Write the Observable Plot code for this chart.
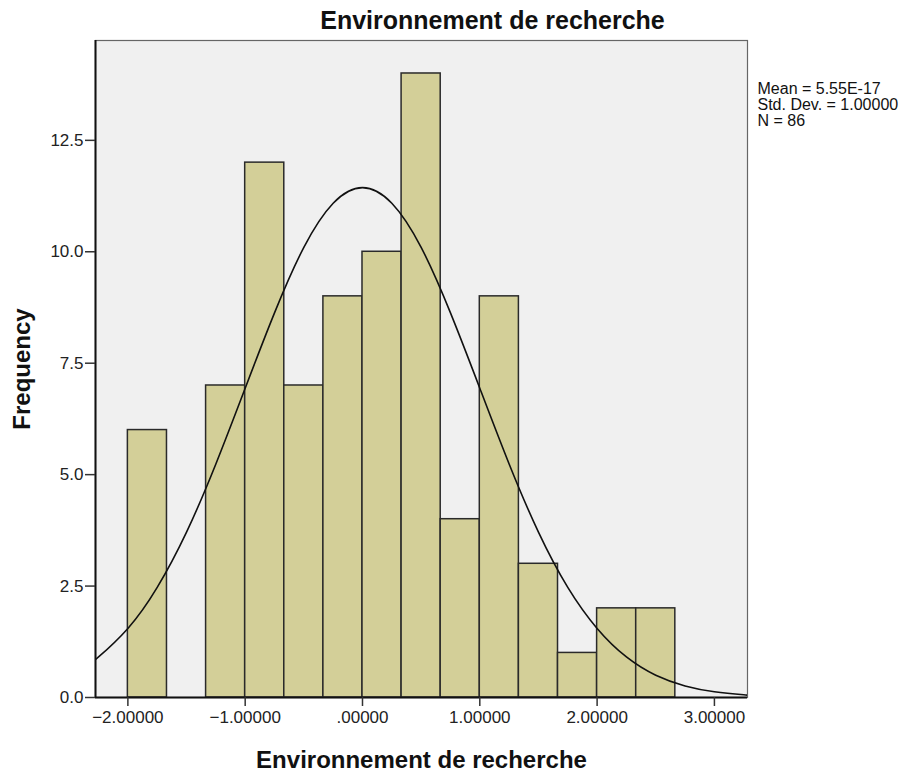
<!DOCTYPE html>
<html>
<head>
<meta charset="utf-8">
<script src="https://cdn.jsdelivr.net/npm/d3@7"></script>
<script src="https://cdn.jsdelivr.net/npm/@observablehq/plot@0.6"></script>
<style>
  html, body { margin: 0; padding: 0; background: #fff; }
  #chart svg { display: block; }
</style>
</head>
<body>
<div id="chart"></div>
<script>
// Histogram bins (lower edge, upper edge) and frequencies
const binStart = [-2.0, -1.6667, -1.3333, -1.0, -0.6667, -0.3333, 0.0, 0.3333, 0.6667, 1.0, 1.3333, 1.6667, 2.0, 2.3333];
const binEnd   = [-1.6667, -1.3333, -1.0, -0.6667, -0.3333, 0.0, 0.3333, 0.6667, 1.0, 1.3333, 1.6667, 2.0, 2.3333, 2.6667];
const counts   = [6, 0, 7, 12, 7, 9, 10, 14, 4, 9, 3, 1, 2, 2];

// Normal curve values
const curveX = [-2.3, -2.25, -2.0, -1.75, -1.5, -1.25, -1.0, -0.75, -0.5, -0.25, 0.0, 0.25, 0.5, 0.75, 1.0, 1.25, 1.5, 1.75, 2.0, 2.25, 2.5, 2.75, 3.0, 3.25, 3.3];
const curveY = [0.81, 0.91, 1.55, 2.47, 3.71, 5.24, 6.94, 8.63, 10.10, 11.09, 11.44, 11.09, 10.10, 8.63, 6.94, 5.24, 3.71, 2.47, 1.55, 0.91, 0.50, 0.26, 0.13, 0.06, 0.05];

// Axis ticks
const xTicks = [-2, -1, 0, 1, 2, 3];
const yTicks = [0, 2.5, 5, 7.5, 10, 12.5];

// Texts
const title = "Environnement de recherche";
const xLabel = "Environnement de recherche";
const yLabel = "Frequency";
const statsLines = ["Mean = 5.55E-17", "Std. Dev. = 1.00000", "N = 86"];

const bins = binStart.map((s, i) => ({x1: s, x2: binEnd[i], count: counts[i]})).filter(d => d.count > 0);
const curve = curveX.map((x, i) => ({x, y: curveY[i]}));

const xDomain = [-2.276, 3.282];
const fmtX = v => d3.format(".5f")(v).replace(/^(-?)0\./, "$1.");

const chart = Plot.plot({
  width: 915,
  height: 775,
  marginLeft: 95,
  marginRight: 168,
  marginTop: 40,
  marginBottom: 78,
  style: {fontFamily: "'Liberation Sans', Arial, sans-serif", background: "#fff", overflow: "visible"},
  x: {domain: xDomain},
  y: {domain: [0, 14.74]},
  marks: [
    Plot.frame({fill: "#f0f0f0", stroke: "#666", strokeWidth: 1.2}),
    Plot.rectY(bins, {x1: "x1", x2: "x2", y: "count", fill: "#d3cf98", stroke: "#2a2a2a", strokeWidth: 1.5}),
    Plot.line(curve, {x: "x", y: "y", curve: "natural", stroke: "#111", strokeWidth: 1.6, clip: true}),
    Plot.ruleX([xDomain[0]], {stroke: "#111", strokeWidth: 2}),
    Plot.ruleY([0], {stroke: "#111", strokeWidth: 2}),
    Plot.axisX({ticks: xTicks, tickFormat: fmtX, tickSize: 9, tickPadding: 4, fontSize: 17, label: null, stroke: "#333", color: "#222", strokeWidth: 1.5}),
    Plot.axisY({ticks: yTicks, tickFormat: d3.format(".1f"), tickSize: 10, tickPadding: 2, fontSize: 17, label: null, stroke: "#333", color: "#222", strokeWidth: 1.5}),
    Plot.text([title], {frameAnchor: "top-left", dx: 397, dy: -20, lineAnchor: "middle", textAnchor: "middle", fontSize: 25, fontWeight: "bold", fill: "#111"}),
    Plot.text([xLabel], {frameAnchor: "bottom", dy: 63, lineAnchor: "middle", textAnchor: "middle", fontSize: 24, fontWeight: "bold", fill: "#111"}),
    Plot.text([yLabel], {frameAnchor: "left", dx: -73, lineAnchor: "middle", textAnchor: "middle", rotate: -90, fontSize: 24, fontWeight: "bold", fill: "#111"}),
    Plot.text([statsLines.join("\n")], {frameAnchor: "top-right", dx: 10, dy: 42, lineAnchor: "top", textAnchor: "start", fontSize: 16, lineHeight: 1.0, fill: "#111"})
  ]
});
document.getElementById("chart").appendChild(chart);
</script>
</body>
</html>
